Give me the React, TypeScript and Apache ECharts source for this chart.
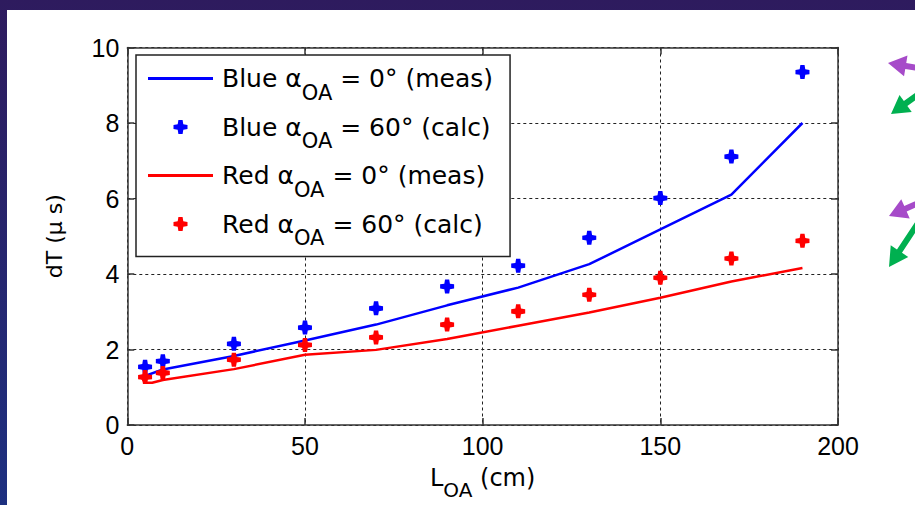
import React, { useEffect, useRef } from 'react';
import * as echarts from 'echarts';

// ---- data ----
const calcX = [5, 10, 30, 50, 70, 90, 110, 130, 150, 170, 190];
const blueCalc = [1.54, 1.69, 2.15, 2.58, 3.09, 3.67, 4.22, 4.96, 6.01, 7.11, 9.35];
const redCalc = [1.27, 1.38, 1.73, 2.12, 2.32, 2.66, 3.01, 3.45, 3.9, 4.41, 4.88];
const blueMeasX = [4, 10, 30, 50, 70, 90, 110, 130, 150, 170, 190];
const blueMeas = [1.27, 1.47, 1.83, 2.24, 2.66, 3.17, 3.64, 4.26, 5.18, 6.1, 8.0];
const redMeasX = [4, 5, 7, 10, 30, 50, 70, 90, 110, 130, 150, 170, 190];
const redMeas = [1.27, 1.12, 1.12, 1.19, 1.48, 1.86, 1.99, 2.28, 2.63, 2.98, 3.37, 3.8, 4.16];

const xMin = 0, xMax = 200, xStep = 50;
const yMin = 0, yMax = 10, yStep = 2;

const seriesNames = [
  'Blue αOA = 0° (meas)',
  'Blue αOA = 60° (calc)',
  'Red αOA = 0° (meas)',
  'Red αOA = 60° (calc)',
];
const legendParts = [
  ['Blue α', 'OA', ' = 0° (meas)'],
  ['Blue α', 'OA', ' = 60° (calc)'],
  ['Red α', 'OA', ' = 0° (meas)'],
  ['Red α', 'OA', ' = 60° (calc)'],
];
const xTitle = ['L', 'OA', ' (cm)'];
const yTitle = 'dT (µ s)';

const BLUE = '#0000ff';
const RED = '#ff0000';
const STAR = 'path://M7,0H13L14,6L20,7V13L14,14L13,20H7L6,14L0,13V7L6,6Z';
const LINE_ICON = 'path://M0,0H65V3H0Z';

function arrow(tail: number[], tip: number[], shaftW: number, headL: number, headW: number) {
  const dx = tip[0] - tail[0], dy = tip[1] - tail[1];
  const len = Math.hypot(dx, dy);
  const ux = dx / len, uy = dy / len;
  const nx = -uy, ny = ux;
  const bx = tip[0] - ux * headL, by = tip[1] - uy * headL;
  return [
    [tail[0] + nx * shaftW / 2, tail[1] + ny * shaftW / 2],
    [bx + nx * shaftW / 2, by + ny * shaftW / 2],
    [bx + nx * headW / 2, by + ny * headW / 2],
    [tip[0], tip[1]],
    [bx - nx * headW / 2, by - ny * headW / 2],
    [bx - nx * shaftW / 2, by - ny * shaftW / 2],
    [tail[0] - nx * shaftW / 2, tail[1] - ny * shaftW / 2],
  ];
}

const PURPLE = '#a64bc9';
const GREEN = '#00b050';
const arrows = [
  { pts: arrow([930, 70], [888, 63], 6, 18, 21), c: PURPLE },
  { pts: arrow([930, 86], [891, 114], 6, 18, 21), c: GREEN },
  { pts: arrow([930, 198], [889, 216], 6, 18, 21), c: PURPLE },
  { pts: arrow([930, 205], [889, 267], 6, 19, 21), c: GREEN },
];

export default function App() {
  const ref = useRef<HTMLDivElement>(null);
  useEffect(() => {
    if (!ref.current) return;
    const chart = echarts.init(ref.current, null, { renderer: 'svg' });
    const tickFont = { fontFamily: 'Liberation Sans', fontSize: 25, color: '#000' };
    const axisLineStyle = { color: '#333', width: 1.5 };
    const splitStyle = { color: '#222', width: 1, type: [3, 3] as any };
    const legendRich = {
      f: { fontFamily: 'DejaVu Sans', fontSize: 25, color: '#000', padding: [0, 0, 0, 4], verticalAlign: 'middle' },
      s: { fontFamily: 'DejaVu Sans', fontSize: 21, color: '#000', padding: [28, 0, 0, 0], verticalAlign: 'middle' },
      a: { fontFamily: 'DejaVu Sans', fontSize: 25, color: '#000', verticalAlign: 'middle' },
    };
    chart.setOption({
      animation: false,
      backgroundColor: 'transparent',
      grid: { left: 127.3, top: 47.5, right: 77, bottom: 75.7, containLabel: false },
      xAxis: [
        {
          type: 'value', min: xMin, max: xMax, interval: xStep, position: 'bottom',
          name: `{a|${xTitle[0]}}{s|${xTitle[1]}}{a|${xTitle[2]}}`,
          nameLocation: 'middle', nameGap: 31,
          nameTextStyle: {
            rich: {
              a: { fontFamily: 'DejaVu Sans', fontSize: 24, color: '#000', verticalAlign: 'middle' },
              s: { fontFamily: 'DejaVu Sans', fontSize: 20, color: '#000', padding: [24, 0, 0, 0], verticalAlign: 'middle' },
            },
          },
          axisLine: { show: true, onZero: false, lineStyle: axisLineStyle },
          axisTick: { show: true, inside: true, length: 7, lineStyle: axisLineStyle },
          axisLabel: { ...tickFont, margin: 8 },
          splitLine: { show: true, lineStyle: splitStyle },
        },
        {
          type: 'value', min: xMin, max: xMax, interval: xStep, position: 'top',
          axisLine: { show: true, onZero: false, lineStyle: axisLineStyle },
          axisTick: { show: true, inside: true, length: 7, lineStyle: axisLineStyle },
          axisLabel: { show: false },
          splitLine: { show: false },
        },
      ],
      yAxis: [
        {
          type: 'value', min: yMin, max: yMax, interval: yStep, position: 'left',
          name: yTitle, nameLocation: 'middle', nameGap: 62,
          nameTextStyle: { fontFamily: 'DejaVu Sans', fontSize: 22, color: '#000' },
          axisLine: { show: true, onZero: false, lineStyle: axisLineStyle },
          axisTick: { show: true, inside: true, length: 7, lineStyle: axisLineStyle },
          axisLabel: { ...tickFont, margin: 8 },
          splitLine: { show: true, lineStyle: splitStyle },
        },
        {
          type: 'value', min: yMin, max: yMax, interval: yStep, position: 'right',
          axisLine: { show: true, onZero: false, lineStyle: axisLineStyle },
          axisTick: { show: true, inside: true, length: 7, lineStyle: axisLineStyle },
          axisLabel: { show: false },
          splitLine: { show: false },
        },
      ],
      legend: {
        orient: 'vertical', left: 136, top: 55,
        padding: [11, 17, 8, 12],
        itemGap: 11.5, itemWidth: 65, itemHeight: 14,
        backgroundColor: '#fff', borderColor: '#222', borderWidth: 1.5,
        data: seriesNames.map((n, i) => ({ name: n, icon: i % 2 === 0 ? LINE_ICON : STAR })),
        formatter: (name: string) => {
          const p = legendParts[seriesNames.indexOf(name)];
          return `{f|${p[0]}}{s|${p[1]}}{a|${p[2]}}`;
        },
        textStyle: { fontFamily: 'DejaVu Sans', fontSize: 25, color: '#000', rich: legendRich },
        selectedMode: false,
      },
      graphic: arrows.map((a) => ({
        type: 'polygon', shape: { points: a.pts }, style: { fill: a.c },
      })),
      series: [
        {
          name: seriesNames[0], type: 'line', color: BLUE, showSymbol: false, symbol: 'none',
          lineStyle: { color: BLUE, width: 2.5 },
          data: blueMeasX.map((x, i) => [x, blueMeas[i]]), z: 3,
        },
        {
          name: seriesNames[1], type: 'scatter', color: BLUE, symbol: STAR, symbolSize: 14,
          itemStyle: { color: BLUE, opacity: 1 },
          data: calcX.map((x, i) => [x, blueCalc[i]]), z: 4,
        },
        {
          name: seriesNames[2], type: 'line', color: RED, showSymbol: false, symbol: 'none',
          lineStyle: { color: RED, width: 2.5 },
          data: redMeasX.map((x, i) => [x, redMeas[i]]), z: 3,
        },
        {
          name: seriesNames[3], type: 'scatter', color: RED, symbol: STAR, symbolSize: 14,
          itemStyle: { color: RED, opacity: 1 },
          data: calcX.map((x, i) => [x, redCalc[i]]), z: 4,
        },
      ],
    });
    return () => chart.dispose();
  }, []);

  return (
    <div style={{ position: 'fixed', left: 0, top: 0, width: 915, height: 505, overflow: 'hidden',
      background: 'linear-gradient(180deg, #2e1b5e 0%, #27246c 45%, #1d3080 100%)' }}>
      <div style={{ position: 'absolute', left: 7, top: 10, width: 908, height: 495, background: '#fff' }} />
      <div ref={ref} style={{ position: 'absolute', left: 0, top: 0, width: 915, height: 505 }} />
    </div>
  );
}
